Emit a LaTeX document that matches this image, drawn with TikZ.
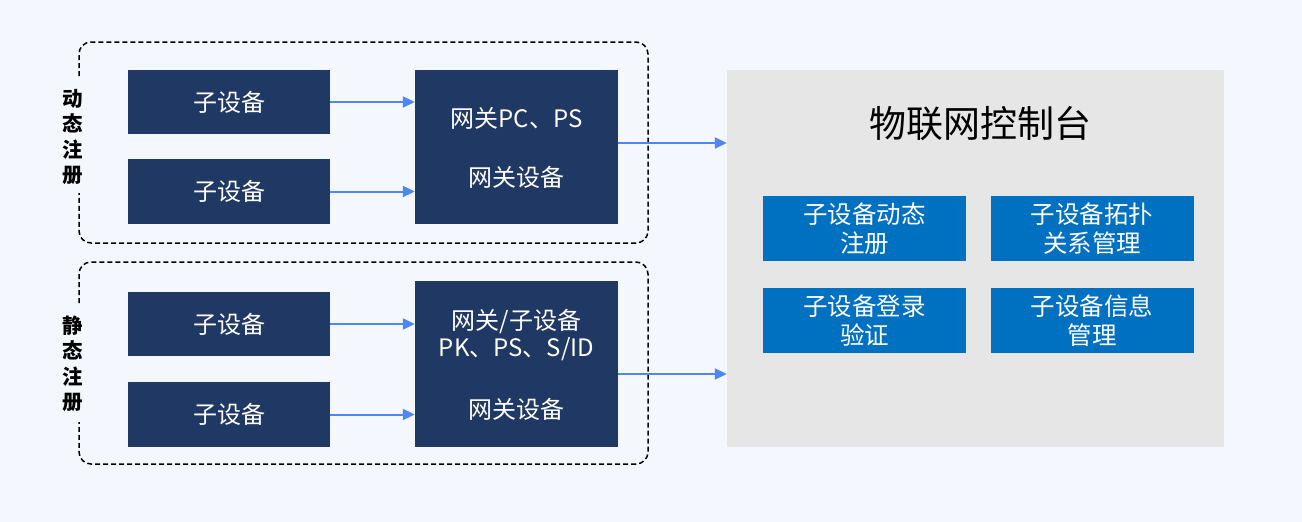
\documentclass[tikz,border=0pt]{standalone}
\usepackage{fontspec}
\setmainfont{Noto Sans CJK SC}
\usetikzlibrary{arrows.meta}
\definecolor{pagebg}{HTML}{F4F8FE}
\definecolor{navy}{HTML}{203864}
\definecolor{flow}{HTML}{4C87F5}
\definecolor{panel}{HTML}{E6E6E6}
\definecolor{func}{HTML}{0070C0}
\tikzset{
  devbox/.style={fill=navy, draw=none, text=white, font=\fontsize{24}{27}\selectfont},
  gwtext/.style={text=white, font=\fontsize{24}{27}\selectfont, inner sep=0},
  funcbox/.style={fill=func, draw=none, text=white, align=center,
    minimum width=203pt, minimum height=65pt, inner sep=0,
    font=\fontsize{24.5}{29.5}\selectfont},
  arr/.style={draw=flow, line width=2pt, -{Triangle[length=12pt,width=11pt]}},
  groupline/.style={draw=black, line width=1.5pt, dash pattern=on 5pt off 3pt, rounded corners=12pt},
  sidelabel/.style={font=\bfseries\fontsize{20.5}{25.5}\selectfont, align=center, inner sep=0}
}
\begin{document}
\begin{tikzpicture}[x=1pt,y=-1pt]
\fill[pagebg] (0,0) rectangle (1302,522);
\useasboundingbox (0,0) rectangle (1302,522);

% dynamic registration group
\draw[groupline] (79,76) -- (79,42) -- (648,42) -- (648,243) -- (79,243) -- (79,193);
\node[sidelabel] (dynlabel) at (73,137) {动\\态\\注\\册};
\node[devbox, minimum width=202pt, minimum height=64pt] (d1) at (229,102) {子设备};
\node[devbox, minimum width=202pt, minimum height=65pt] (d2) at (229,191.5) {子设备};
\node[fill=navy, minimum width=203pt, minimum height=154pt, inner sep=0] (gw1) at (516.5,147) {};
\node[gwtext] (gw1a) at (516.5,118) {网关PC、PS};
\node[gwtext] (gw1b) at (516.5,177) {网关设备};

% static registration group
\draw[groupline] (79,303) -- (79,262) -- (648,262) -- (648,464) -- (79,464) -- (79,422);
\node[sidelabel] (statlabel) at (73,364) {静\\态\\注\\册};
\node[devbox, minimum width=202pt, minimum height=64pt] (d3) at (229,324) {子设备};
\node[devbox, minimum width=202pt, minimum height=65pt] (d4) at (229,414.5) {子设备};
\node[fill=navy, minimum width=203pt, minimum height=166pt, inner sep=0] (gw2) at (516.5,364) {};
\node[gwtext] (gw2a) at (516.5,322) {网关/子设备};
\node[gwtext] (gw2b) at (516.5,349) {PK、PS、S/ID};
\node[gwtext] (gw2c) at (516.5,409) {网关设备};

% IoT console
\node[fill=panel, minimum width=497pt, minimum height=377pt, inner sep=0] (con) at (975.5,258.5) {};
\node[font=\fontsize{37}{42}\selectfont, inner sep=0] (title) at (980,124) {物联网控制台};
\node[funcbox] (f1) at (864.5,228.5) {子设备动态\\注册};
\node[funcbox] (f2) at (1092,228.5) {子设备拓扑\\关系管理};
\node[funcbox] (f3) at (864.5,320.5) {子设备登录\\验证};
\node[funcbox] (f4) at (1092,320.5) {子设备信息\\管理};

% data flow
\draw[arr] (d1.east) -- (d1.east -| gw1.west);
\draw[arr] (d2.east) -- (d2.east -| gw1.west);
\draw[arr] (d3.east) -- (d3.east -| gw2.west);
\draw[arr] (d4.east) -- (d4.east -| gw2.west);
\draw[arr] ([yshift=4pt]gw1.east) -- ([yshift=4pt]gw1.east -| con.west);
\draw[arr] ([yshift=-10pt]gw2.east) -- ([yshift=-10pt]gw2.east -| con.west);
\end{tikzpicture}
\end{document}
